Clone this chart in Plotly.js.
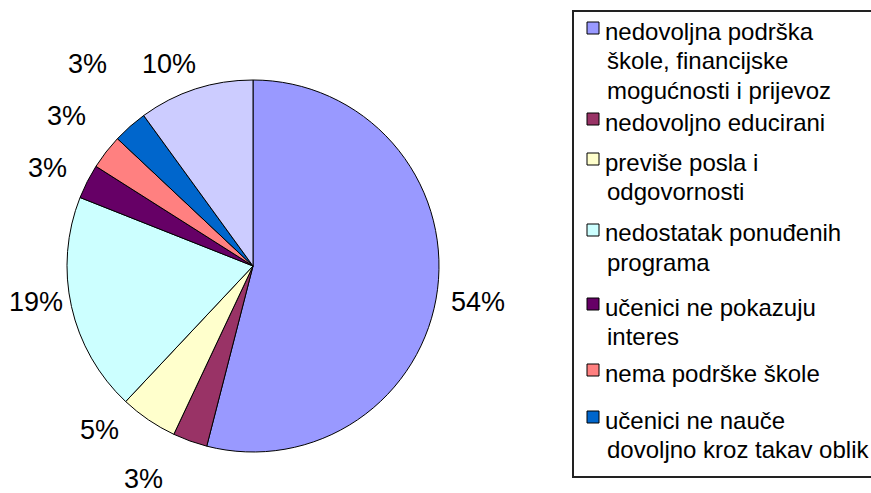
<!DOCTYPE html>
<html>
<head>
<meta charset="utf-8">
<script src="https://cdn.plot.ly/plotly-3.0.1.min.js"></script>
<style>html,body{margin:0;padding:0;background:#fff;}#chart{width:871px;height:493px;}</style>
</head>
<body>
<div id="chart"></div>
<script>
// ---- data ----
const categories = [
  "nedovoljna podrška škole, financijske mogućnosti i prijevoz",
  "nedovoljno educirani",
  "previše posla i odgovornosti",
  "nedostatak ponuđenih programa",
  "učenici ne pokazuju interes",
  "nema podrške škole",
  "učenici ne nauče dovoljno kroz takav oblik",
  "ostalo"
];
const legendLines = [
  ["nedovoljna podrška", "škole, financijske", "mogućnosti i prijevoz"],
  ["nedovoljno educirani"],
  ["previše posla i", "odgovornosti"],
  ["nedostatak ponuđenih", "programa"],
  ["učenici ne pokazuju", "interes"],
  ["nema podrške škole"],
  ["učenici ne nauče", "dovoljno kroz takav oblik"]
];
const values = [54, 3, 5, 19, 3, 3, 3, 10];
const colors = ["#9999FF", "#993366", "#FFFFCC", "#CCFFFF", "#660066", "#FF8080", "#0066CC", "#CCCCFF"];

// ---- layout constants ----
const W = 871, H = 493;
const cx = 253, cy = 266, r = 186;
const labelR = r + 40;
const labelNudge = [[1, 8], [-33, 0], [-26, -23], [4, -13], [-4, 5], [-8, -11], [-16, -32], [-14, 13]];
const legendFirstLineY = [31, 122, 162, 233, 307, 373, 420];
const lineH = 29.5;
const FONT = "Liberation Sans, Arial, sans-serif";

const trace = {
  type: "pie",
  labels: categories,
  values: values,
  sort: false,
  direction: "clockwise",
  rotation: 0,
  marker: {colors: colors, line: {color: "#000", width: 1}},
  textinfo: "none",
  hoverinfo: "none",
  showlegend: false,
  domain: {x: [(cx - r) / W, (cx + r) / W], y: [1 - (cy + r) / H, 1 - (cy - r) / H]}
};

const annotations = [];
const shapes = [];
const total = values.reduce((a, b) => a + b, 0);
let cum = 0;
values.forEach((v, i) => {
  const mid = (cum + v / 2) / total;
  cum += v;
  const th = 2 * Math.PI * mid;
  const px = cx + labelR * Math.sin(th) + labelNudge[i][0];
  const py = cy - labelR * Math.cos(th) + labelNudge[i][1];
  annotations.push({
    xref: "paper", yref: "paper", x: px / W, y: 1 - py / H,
    xanchor: "center", yanchor: "middle", showarrow: false,
    text: Math.round(v / total * 100) + "%",
    font: {family: FONT, size: 27, color: "#000"}
  });
});

// legend box
shapes.push({type: "rect", xref: "paper", yref: "paper",
  x0: 573 / W, x1: 875 / W, y0: 1 - 477 / H, y1: 1 - 11 / H,
  line: {color: "#222", width: 2}, fillcolor: "rgba(0,0,0,0)"});

legendLines.forEach((lines, i) => {
  const y0 = legendFirstLineY[i];
  shapes.push({type: "rect", xref: "paper", yref: "paper",
    x0: 587 / W, x1: 599 / W, y0: 1 - (y0 + 3) / H, y1: 1 - (y0 - 9) / H,
    line: {color: "#000", width: 1}, fillcolor: colors[i]});
  lines.forEach((t, k) => {
    annotations.push({
      xref: "paper", yref: "paper", x: (k === 0 ? 603 : 605) / W, y: 1 - (y0 + k * lineH) / H,
      xanchor: "left", yanchor: "middle", showarrow: false, text: t,
      font: {family: FONT, size: 24, color: "#000"}
    });
  });
});

const layout = {
  width: W, height: H,
  margin: {l: 0, r: 0, t: 0, b: 0},
  paper_bgcolor: "#fff",
  showlegend: false,
  annotations: annotations,
  shapes: shapes
};
Plotly.newPlot("chart", [trace], layout, {displayModeBar: false, staticPlot: true});
</script>
</body>
</html>
